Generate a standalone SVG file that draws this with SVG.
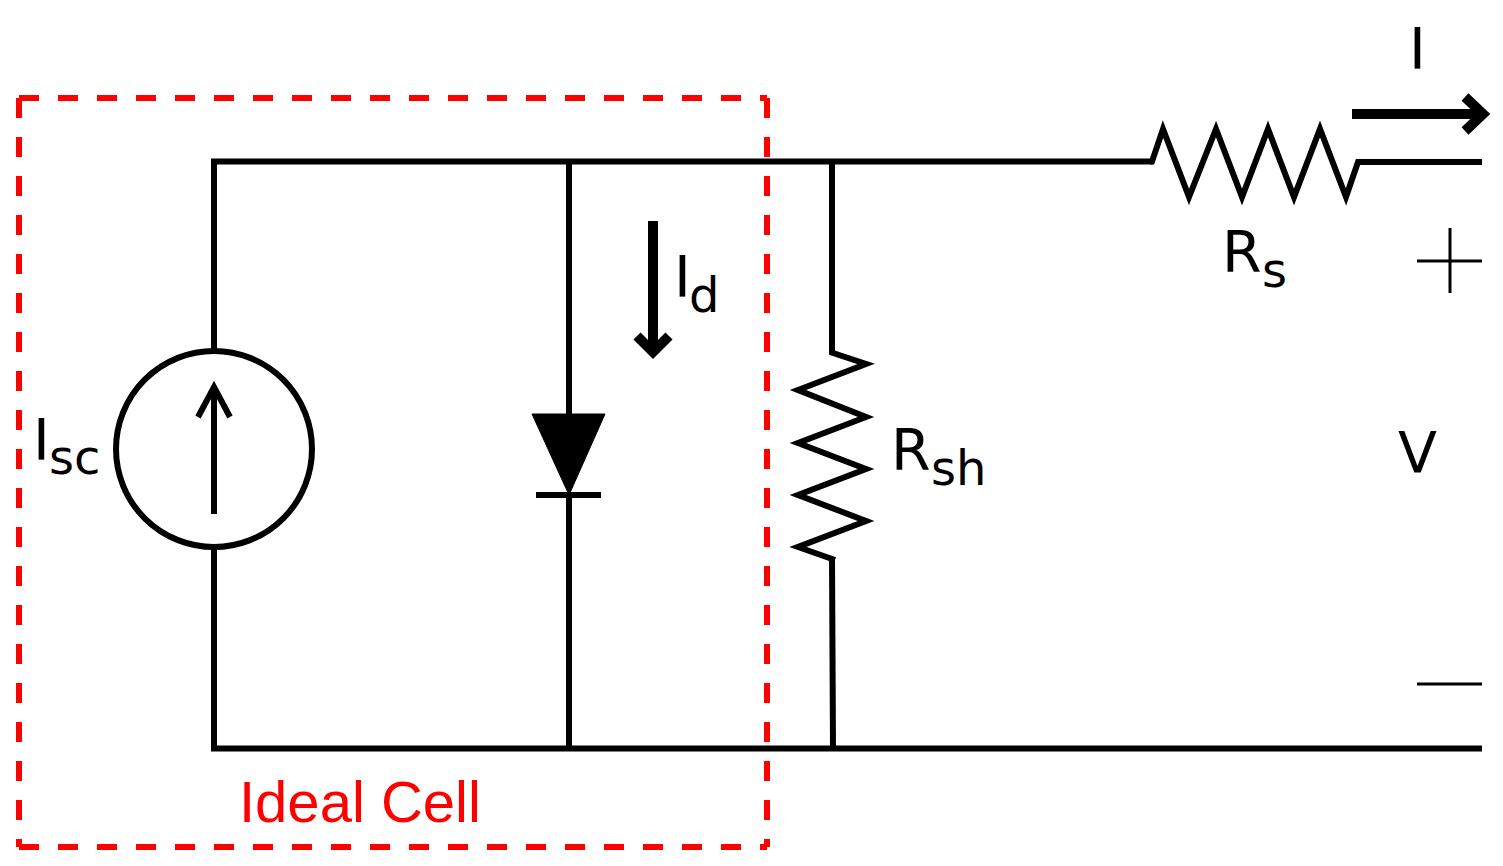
<svg xmlns="http://www.w3.org/2000/svg" width="1503" height="866" viewBox="0 0 1503 866">
<style>
.w{fill:none;stroke:#000;stroke-width:6;stroke-linecap:butt;stroke-linejoin:miter;stroke-miterlimit:10}
.t{fill:none;stroke:#000;stroke-width:3}
.a{fill:none;stroke:#000;stroke-width:10}
.h{fill:none;stroke:#000;stroke-width:6;stroke-linejoin:miter}
.d{fill:none;stroke:#f00;stroke-width:6;stroke-dasharray:20 19}
.l{font-family:"DejaVu Sans",sans-serif;font-size:57px;fill:#000}
.s{font-size:48px}
.r{font-family:"Liberation Sans",Arial,sans-serif;font-size:58px;fill:#f00}
</style>
<rect width="1503" height="866" fill="#fff"/>
<g id="connectors">
<path class="w" d="M214 350V161.5H1153"/>
<path class="w" d="M214 547V748.5H1482"/>
<path class="w" d="M569 161.5V416"/>
<path class="w" d="M569 495V748"/>
<path class="w" d="M832 161.5V354"/>
<path class="w" d="M832 558L833 748"/>
<path class="w" d="M1356 162H1482"/>
</g>
<g id="ideal-cell">
<path class="d" d="M19 98H767"/>
<path class="d" d="M19 847H767"/>
<path class="d" d="M19 98V847"/>
<path class="d" d="M767 98V847"/>
<text class="r" x="239" y="822">Ideal Cell</text>
</g>
<g id="current-source">
<circle class="w" cx="214" cy="449" r="98"/>
<path class="w" d="M214 514V388"/>
<path class="h" d="M198 417L214 387L230 417"/>
<text class="l" x="33" y="460">I<tspan class="s" x="49" y="474">sc</tspan></text>
</g>
<g id="diode">
<polygon points="532,414 605,414 569,495" fill="#000" stroke="#000" stroke-width="1"/>
<path class="w" d="M536 495H601"/>
</g>
<g id="diode-current">
<path class="a" d="M653 221V352"/>
<path class="a" d="M637 336L653 352L669 336"/>
<text class="l" x="674" y="297">I<tspan class="s" x="689" y="312">d</tspan></text>
</g>
<g id="shunt-resistor">
<path class="w" d="M830 352L866 364L798 390L866 417L798 443L866 469L798 495L866 521L798 547L835 560"/>
<text class="l" x="891" y="470">R<tspan class="s" x="931" y="485">sh</tspan></text>
</g>
<g id="series-resistor">
<path class="w" d="M1150 161.5H1152L1163 129L1189 197L1216 129L1242 197L1268 129L1294 197L1320 129L1346 197L1358 162H1362"/>
<text class="l" x="1222" y="272">R<tspan class="s" x="1262" y="287">s</tspan></text>
</g>
<g id="output-current">
<path class="a" d="M1352 114H1484"/>
<path class="a" d="M1465 97L1483 114L1465 131"/>
<text class="l" x="1409" y="69">I</text>
</g>
<g id="output-voltage">
<path class="t" d="M1417 261H1482M1450 228V293"/>
<text class="l" x="1398" y="473">V</text>
<path class="t" d="M1417 684H1482"/>
</g>
</svg>
